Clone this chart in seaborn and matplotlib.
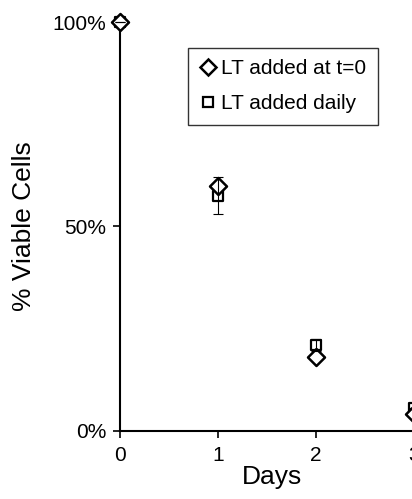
import pandas as pd
import matplotlib
matplotlib.use("Agg")
import matplotlib.pyplot as plt
import seaborn as sns
from matplotlib.lines import Line2D

# values
days = [0, 1, 2, 3]
lt_t0 = [100, 60, 18, 4.2]       # diamonds
lt_daily = [100, 57.5, 21, 5.6]  # squares
daily_err = [0, 4.5, 1.5, 0]

df = pd.DataFrame({
    "Days": days * 2,
    "viable": lt_t0 + lt_daily,
    "series": ["LT added at t=0"] * 4 + ["LT added daily"] * 4,
})

sns.set_style("white")
plt.rcParams["font.family"] = ["Liberation Sans", "DejaVu Sans"]
plt.rcParams["text.color"] = "black"
plt.rcParams["axes.labelcolor"] = "black"

fig = plt.figure(figsize=(4.12, 4.99), dpi=100)
ax = fig.add_axes([0.2913, 0.1363, 0.7136, 0.8196])

sq = df[df["series"] == "LT added daily"]
di = df[df["series"] == "LT added at t=0"]
sns.scatterplot(data=sq, x="Days", y="viable", marker="s", s=55,
                facecolor="white", edgecolor="black", linewidth=1.6,
                ax=ax, clip_on=False, zorder=3)
sns.scatterplot(data=di, x="Days", y="viable", marker="D", s=75,
                facecolor="white", edgecolor="black", linewidth=1.8,
                ax=ax, clip_on=False, zorder=4)
ax.errorbar(days, lt_daily, yerr=daily_err, fmt="none", ecolor="black",
            elinewidth=0.8, capsize=3.5, capthick=0.8, zorder=5, clip_on=False)

ax.set_xlim(0, 3)
ax.set_ylim(0, 100)
ax.set_xticks([0, 1, 2, 3])
ax.set_yticks([0, 50, 100])
ax.set_yticklabels(["0%", "50%", "100%"])
sns.despine(ax=ax)
for s in ["left", "bottom"]:
    ax.spines[s].set_linewidth(1.5)
    ax.spines[s].set_color("black")
ax.tick_params(axis="both", direction="out", length=5, width=1.2,
               colors="black", labelcolor="black", labelsize=15,
               left=True, bottom=True)
ax.tick_params(axis="x", pad=6)
ax.tick_params(axis="y", pad=5)

ax.set_xlabel("Days", fontsize=19, color="black")
ax.set_ylabel("% Viable Cells", fontsize=19, color="black")
ax.xaxis.set_label_coords(0.517, -0.083)
ax.yaxis.set_label_coords(-0.285, 0.5)

handles = [
    Line2D([], [], ls="none", marker="D", ms=8, mfc="white", mec="black", mew=1.8),
    Line2D([], [], ls="none", marker="s", ms=6.5, mfc="white", mec="black", mew=1.6),
]
leg = ax.legend(handles, ["LT added at t=0", "LT added daily"],
                loc="upper left", bbox_to_anchor=(188 / 412, 1 - 48 / 499),
                bbox_transform=fig.transFigure, fontsize=15, frameon=True,
                fancybox=False, handlelength=0.8, handletextpad=0.25,
                borderpad=0.55, labelspacing=0.75, borderaxespad=0,
                labelcolor="black")
leg.get_frame().set_edgecolor("black")
leg.get_frame().set_linewidth(1.0)

fig.savefig("out.png", dpi=100)
